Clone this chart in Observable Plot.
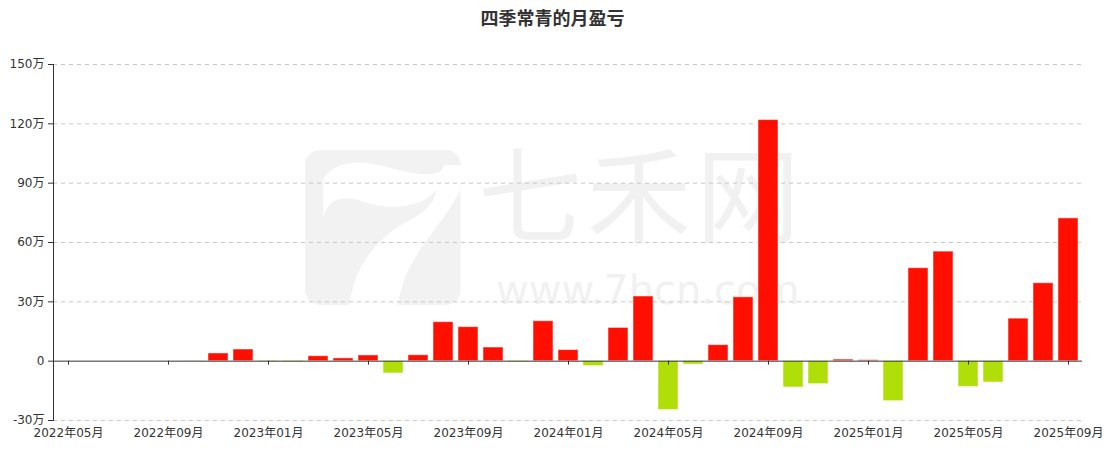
<!DOCTYPE html>
<html>
<head>
<meta charset="utf-8">
<script src="https://cdn.jsdelivr.net/npm/d3@7"></script>
<script src="https://cdn.jsdelivr.net/npm/@observablehq/plot@0.6"></script>
<style>
  body { margin: 0; background: #fff; }
  #wrap { position: relative; width: 1113px; height: 450px; overflow: hidden; }
  #title { position: relative; z-index: 2; height: 34px; line-height: 34px; text-align: center; padding-right: 8px;
           font-family: "Noto Sans CJK SC", sans-serif; font-weight: bold; font-size: 18px; color: #333; }
  #wm { position: absolute; left: 0; top: 0; width: 1113px; height: 450px; z-index: 0; }
  #wm .cn { position: absolute; left: 478px; top: 114px; line-height: normal; letter-spacing: 5px; font-family: "Noto Sans CJK SC", sans-serif; font-size: 104px; color: #f1f1f1; white-space: nowrap; }
  #wm .url { position: absolute; left: 496px; top: 267px; line-height: normal; font-family: "DejaVu Sans", sans-serif; font-size: 40px; color: #f1f1f1; white-space: nowrap; }
  #chart { position: relative; z-index: 1; }
</style>
</head>
<body>
<div id="wrap">
  <div id="wm">
    <svg style="position:absolute;left:290px;top:140px" width="200" height="180">
      <g transform="scale(0.33333)">
        <rect x="45" y="30" width="467" height="465" rx="45" fill="#f2f2f2"></rect>
        <path fill="#fff" d="M100,115 C130,70 200,55 280,78 C360,100 430,115 455,90 L463,75 L512,75 L512,150 C450,270 335,360 325,498 L178,498 C190,380 260,295 350,245 C390,225 430,200 440,150 C400,200 300,215 220,185 C170,165 115,170 100,230 Z"></path>
      </g>
    </svg>
    <div class="cn">七禾网</div>
    <div class="url">www.7hcn.com</div>
  </div>
  <div id="title">四季常青的月盈亏</div>
  <div id="chart"></div>
</div>
<script>
const months = [
  "2022-05","2022-06","2022-07","2022-08","2022-09","2022-10","2022-11","2022-12",
  "2023-01","2023-02","2023-03","2023-04","2023-05","2023-06","2023-07","2023-08",
  "2023-09","2023-10","2023-11","2023-12","2024-01","2024-02","2024-03","2024-04",
  "2024-05","2024-06","2024-07","2024-08","2024-09","2024-10","2024-11","2024-12",
  "2025-01","2025-02","2025-03","2025-04","2025-05","2025-06","2025-07","2025-08","2025-09"
];
// 月盈亏（万元）
const profit = [
  0, 0, 0, 0, 0, -0.1, 3.9, 5.9,
  -0.4, -0.5, 2.5, 1.4, 2.9, -6.2, 3.0, 19.7,
  17.2, 6.9, -0.5, 20.2, 5.6, -2.5, 16.8, 32.7,
  -24.7, -1.7, 8.1, 32.3, 121.9, -13.3, -11.6, 0.8,
  0.5, -20.2, 47.0, 55.4, -13.0, -10.8, 21.5, 39.4, 72.2
];
const tickMonths = ["2022-05","2022-09","2023-01","2023-05","2023-09","2024-01","2024-05","2024-09","2025-01","2025-05","2025-09"];
const yTicks = [-30, 0, 30, 60, 90, 120, 150];

const data = months.map((m, i) => ({month: m, value: profit[i]}));
const fmtMonth = d => d.slice(0, 4) + "年" + d.slice(5) + "月";
const fmtY = d => d === 0 ? "0" : d + "万";

const chart = Plot.plot({
  width: 1113,
  height: 416,
  marginTop: 30,
  marginBottom: 30,
  marginLeft: 53,
  marginRight: 31,
  style: { fontFamily: '"DejaVu Sans", "Noto Sans CJK SC", sans-serif', fontSize: "12px", color: "#333", background: "transparent" },
  x: { type: "band", domain: months, paddingInner: 0.2, paddingOuter: 0.1 },
  y: { domain: [-30, 150] },
  marks: [
    Plot.gridY(yTicks.filter(d => d !== 0), { stroke: "#c8c8c8", strokeOpacity: 1, strokeDasharray: "4,4" }),
    Plot.barY(data, {
      x: "month", y: "value",
      fill: d => d.value >= 0 ? "#ff0f00" : "#b0de09",
      stroke: "#fff", strokeOpacity: 0.5, strokeWidth: 1
    }),
    Plot.ruleY([0], { stroke: "#333", strokeWidth: 1 }),
    Plot.ruleX(tickMonths, { x: d => d, y1: 0, y2: -2, stroke: "#333" }),
    Plot.frame({ anchor: "left", stroke: "#333" }),
    Plot.axisY({ ticks: yTicks, tickFormat: fmtY, tickSize: 5, tickPadding: 4, stroke: "#333", fill: "#333", label: null }),
    Plot.axisX({ ticks: tickMonths, tickFormat: fmtMonth, tickSize: 0, tickPadding: 8, fill: "#333", label: null })
  ]
});
document.getElementById("chart").appendChild(chart);
</script>
</body>
</html>
